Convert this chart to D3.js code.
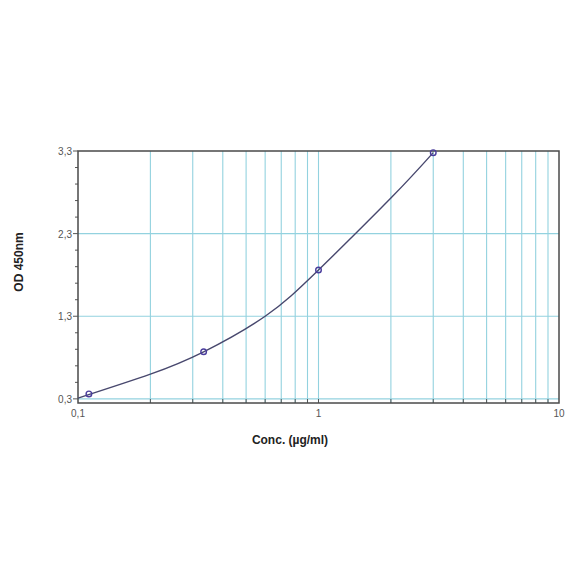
<!DOCTYPE html>
<html>
<head>
<meta charset="utf-8">
<script src="https://cdn.jsdelivr.net/npm/d3@7"></script>
<style>
  body { margin: 0; background: #fff; }
  text { font-family: "Liberation Sans", Arial, sans-serif; }
</style>
</head>
<body>
<div id="chart"></div>
<script>
// standard points (conc, OD)
var conc = [0.111, 0.333, 1, 3]
var od = [0.36, 0.87, 1.86, 3.28]
// fitted curve
var fitConc = [0.1, 0.2, 0.333, 0.6, 1, 2, 3]
var fitOd = [0.31, 0.60, 0.87, 1.30, 1.86, 2.73, 3.28]
var yTicks = [0.3, 1.3, 2.3, 3.3]
var xTickLabels = [0.1, 1, 10]

var width = 584,
    height = 584
var plotL = 78, plotR = 559, plotT = 151, plotB = 403

var svg = d3.select("#chart")
  .append("svg")
    .attr("width", width)
    .attr("height", height)

var x = d3.scaleLog().domain([0.1, 10]).range([plotL, plotR])
var y = d3.scaleLinear().domain([0.25, 3.3]).range([plotB, plotT])

var fmt = function(d) { return String(d).replace(".", ",") }

// grid
var xGrid = x.ticks().filter(function(d) { return d > 0.1 && d < 10 })
svg.append("g")
  .selectAll("line")
  .data(xGrid)
  .enter()
  .append("line")
    .attr("x1", function(d) { return x(d) })
    .attr("x2", function(d) { return x(d) })
    .attr("y1", plotT)
    .attr("y2", plotB)
    .attr("stroke", "#93d2df")
    .attr("stroke-width", 1.1)

svg.append("g")
  .selectAll("line")
  .data(yTicks.slice(0, 3))
  .enter()
  .append("line")
    .attr("x1", plotL)
    .attr("x2", plotR)
    .attr("y1", function(d) { return y(d) })
    .attr("y2", function(d) { return y(d) })
    .attr("stroke", "#93d2df")
    .attr("stroke-width", 1.1)

// minor ticks on y (every 0.2)
var yMinor = d3.range(0.5, 3.3, 0.2).filter(function(d) {
  return yTicks.every(function(t) { return Math.abs(t - d) > 0.01 })
})
svg.append("g")
  .selectAll("line")
  .data(yMinor)
  .enter()
  .append("line")
    .attr("x1", plotL - 3)
    .attr("x2", plotL)
    .attr("y1", function(d) { return y(d) })
    .attr("y2", function(d) { return y(d) })
    .attr("stroke", "#555")

// x ticks inside
svg.append("g")
  .selectAll("line")
  .data(xGrid)
  .enter()
  .append("line")
    .attr("x1", function(d) { return x(d) })
    .attr("x2", function(d) { return x(d) })
    .attr("y1", plotB - 4)
    .attr("y2", plotB)
    .attr("stroke", "#555")

// frame
svg.append("rect")
  .attr("x", plotL)
  .attr("y", plotT)
  .attr("width", plotR - plotL)
  .attr("height", plotB - plotT)
  .attr("fill", "none")
  .attr("stroke", "#4a4a4a")
  .attr("stroke-width", 1.5)

// y axis labels
svg.append("g")
  .selectAll("text")
  .data(yTicks)
  .enter()
  .append("text")
    .attr("x", plotL - 6)
    .attr("y", function(d) { return y(d) + 4 })
    .attr("text-anchor", "end")
    .style("font-size", "10px")
    .attr("fill", "#555")
    .text(fmt)

svg.append("g")
  .selectAll("line")
  .data(yTicks)
  .enter()
  .append("line")
    .attr("x1", plotL - 5)
    .attr("x2", plotL)
    .attr("y1", function(d) { return y(d) })
    .attr("y2", function(d) { return y(d) })
    .attr("stroke", "#555")

// x axis labels
svg.append("g")
  .selectAll("text")
  .data(xTickLabels)
  .enter()
  .append("text")
    .attr("x", function(d) { return x(d) })
    .attr("y", plotB + 14)
    .attr("text-anchor", "middle")
    .style("font-size", "10px")
    .attr("fill", "#555")
    .text(fmt)

// titles
svg.append("text")
  .attr("x", 290)
  .attr("y", 444)
  .attr("text-anchor", "middle")
  .style("font-size", "12px")
  .style("font-weight", "bold")
  .attr("fill", "#222")
  .text("Conc. (µg/ml)")

svg.append("text")
  .attr("transform", "translate(23,262) rotate(-90)")
  .attr("text-anchor", "middle")
  .style("font-size", "12px")
  .style("font-weight", "bold")
  .attr("fill", "#222")
  .text("OD 450nm")

// fitted curve
var fit = fitConc.map(function(c, i) { return [c, fitOd[i]] })
var line = d3.line()
  .x(function(d) { return x(d[0]) })
  .y(function(d) { return y(d[1]) })
  .curve(d3.curveNatural)

svg.append("path")
  .attr("d", line(fit))
  .attr("fill", "none")
  .attr("stroke", "#48486e")
  .attr("stroke-width", 1.4)

// points
svg.append("g")
  .selectAll("circle")
  .data(conc)
  .enter()
  .append("circle")
    .attr("cx", function(d) { return x(d) })
    .attr("cy", function(d, i) { return y(od[i]) })
    .attr("r", 2.8)
    .attr("fill", "none")
    .attr("stroke", "#4a3d9c")
    .attr("stroke-width", 1.4)
</script>
</body>
</html>
